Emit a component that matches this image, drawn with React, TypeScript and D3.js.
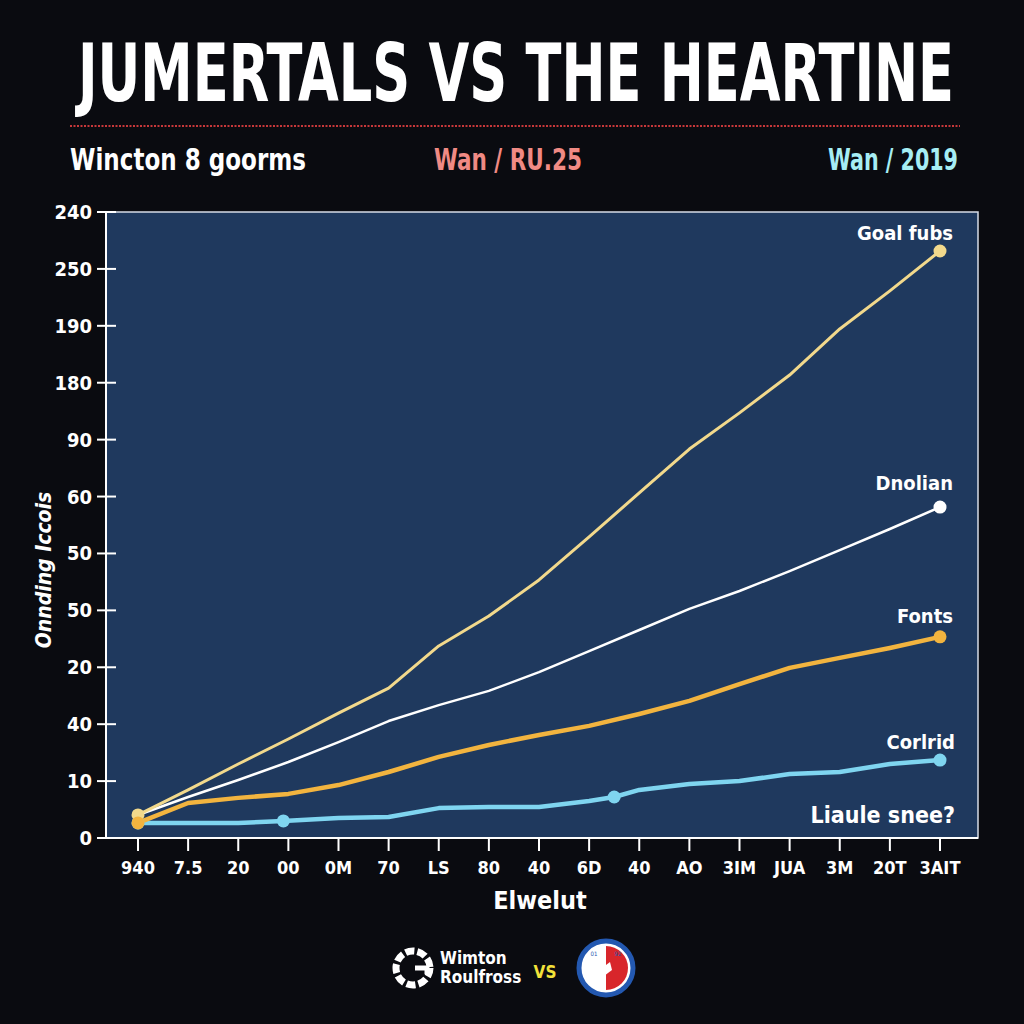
import React from "react";
import * as d3 from "d3";

const title = "JUMERTALS VS THE HEARTINE";
const subLeft = "Wincton 8 goorms";
const subMid = "Wan / RU.25";
const subRight = "Wan / 2019";
const yAxisTitle = "Onnding Iccois";
const xAxisTitle = "Elwelut";

const xTickLabels = ["940", "7.5", "20", "00", "0M", "70", "LS", "80", "40", "6D", "40", "AO", "3IM", "JUA", "3M", "20T", "3AIT"];
const yTickValues = [0, 20, 40, 60, 80, 100, 120, 140, 160, 180, 200, 220];
const yTickLabels = ["0", "10", "40", "20", "50", "50", "60", "90", "180", "190", "250", "240"];

const goalFubs = [8.1, 16.9, 26.0, 34.8, 43.9, 52.7, 67.5, 78.0, 90.7, 105.8, 121.3, 136.7, 149.4, 162.7, 178.9, 192.3, 206.3];
const dnolian = [8.1, 14.4, 20.4, 26.7, 33.7, 41.1, 46.7, 51.7, 58.3, 65.7, 73.1, 80.5, 86.8, 93.8, 101.2, 108.6, 116.3];
const fonts = [5.3, 12.3, 14.1, 15.5, 18.6, 23.2, 28.5, 32.7, 36.2, 39.4, 43.6, 48.2, 54.1, 59.8, 63.3, 66.8, 70.7];
const corlridX = [0, 1, 2, 2.9, 4, 5, 6, 7, 8, 9, 9.5, 10, 11, 12, 13, 14, 15, 16];
const corlridV = [5.3, 5.3, 5.3, 6.0, 7.0, 7.4, 10.5, 10.9, 10.9, 13.0, 14.4, 16.9, 19.0, 20.0, 22.5, 23.2, 26.0, 27.4];
const corlridMarkerIdx = [0, 3, 10, 17];

const seriesNames = ["Goal fubs", "Dnolian", "Fonts", "Corlrid"];
const noteLabel = "Liaule snee?";

const FONT = "'Liberation Sans Narrow', 'DejaVu Sans Condensed', 'Roboto', sans-serif";

export default function App() {
  const left = 106, right = 978, top = 212, bottom = 838;
  const x = d3.scaleLinear().domain([0, 16]).range([138, 940]);
  const y = d3.scaleLinear().domain([0, 220]).range([bottom, top]);
  const line = d3.line<[number, number]>().x(d => x(d[0])).y(d => y(d[1]));

  const goalPts: [number, number][] = goalFubs.map((v, i) => [i, v]);
  const dnoPts: [number, number][] = dnolian.map((v, i) => [i, v]);
  const fontPts: [number, number][] = fonts.map((v, i) => [i, v]);
  const corPts: [number, number][] = corlridX.map((xv, i) => [xv, corlridV[i]]);

  const cGoal = "#f2d98c";
  const cDno = "#ffffff";
  const cFonts = "#f2b43f";
  const cCor = "#7fd5f0";

  const labelStyle = { fontFamily: FONT, fontWeight: 700, fontSize: 20, fill: "#ffffff" } as const;

  return (
    <svg width={1024} height={1024} style={{ position: "absolute", left: 0, top: 0 }}>
      <rect x={0} y={0} width={1024} height={1024} fill="#0a0b10" />
      <text x={516} y={101} textAnchor="middle" fill="#ffffff" fontFamily={FONT} fontWeight={900} fontSize={80}
        textLength={876} lengthAdjust="spacingAndGlyphs">{title}</text>
      <line x1={70} x2={960} y1={126} y2={126} stroke="#c8383a" strokeWidth={2} strokeDasharray="2 1.5" />
      <text x={70} y={170} fill="#ffffff" fontFamily={FONT} fontWeight={700} fontSize={30} textLength={236} lengthAdjust="spacingAndGlyphs">{subLeft}</text>
      <text x={508} y={170} textAnchor="middle" fill="#f08a84" fontFamily={FONT} fontWeight={700} fontSize={30} textLength={148} lengthAdjust="spacingAndGlyphs">{subMid}</text>
      <text x={958} y={170} textAnchor="end" fill="#a6eef4" fontFamily={FONT} fontWeight={700} fontSize={30} textLength={130} lengthAdjust="spacingAndGlyphs">{subRight}</text>

      <rect x={left} y={top} width={right - left} height={bottom - top} fill="#1f395e" stroke="#d6dce6" strokeWidth={1.5} />

      {yTickValues.map((v, i) => (
        <g key={"yt" + i}>
          <line x1={97} x2={116} y1={y(v)} y2={y(v)} stroke="#ffffff" strokeWidth={2} />
          <text x={92} y={y(v) + 7} textAnchor="end" {...labelStyle} fontSize={20}>{yTickLabels[i]}</text>
        </g>
      ))}
      <line x1={left} x2={left} y1={top} y2={bottom} stroke="#ffffff" strokeWidth={2} />
      <line x1={left} x2={right} y1={bottom} y2={bottom} stroke="#ffffff" strokeWidth={2} />
      {xTickLabels.map((t, i) => (
        <g key={"xt" + i}>
          <line x1={x(i)} x2={x(i)} y1={bottom} y2={851} stroke="#ffffff" strokeWidth={2} />
          <text x={x(i)} y={874} textAnchor="middle" {...labelStyle} fontSize={18}>{t}</text>
        </g>
      ))}
      <text x={540} y={909} textAnchor="middle" {...labelStyle} fontSize={25}>{xAxisTitle}</text>
      <text transform="translate(51,570) rotate(-90)" textAnchor="middle" {...labelStyle} fontSize={21} fontStyle="italic">{yAxisTitle}</text>

      <path d={line(corPts) || ""} fill="none" stroke={cCor} strokeWidth={4.5} strokeLinejoin="round" />
      <path d={line(fontPts) || ""} fill="none" stroke={cFonts} strokeWidth={4.5} strokeLinejoin="round" />
      <path d={line(dnoPts) || ""} fill="none" stroke={cDno} strokeWidth={2.5} strokeLinejoin="round" />
      <path d={line(goalPts) || ""} fill="none" stroke={cGoal} strokeWidth={3} strokeLinejoin="round" />

      {corlridMarkerIdx.map(i => (
        <circle key={"cm" + i} cx={x(corPts[i][0])} cy={y(corPts[i][1])} r={6.5} fill={cCor} />
      ))}
      <circle cx={x(0)} cy={y(goalFubs[0])} r={6.5} fill={cGoal} />
      <circle cx={x(0)} cy={y(fonts[0])} r={6.5} fill={cFonts} />
      <circle cx={x(16)} cy={y(goalFubs[16])} r={6.5} fill={cGoal} />
      <circle cx={x(16)} cy={y(dnolian[16])} r={6.5} fill={cDno} />
      <circle cx={x(16)} cy={y(fonts[16])} r={6.5} fill={cFonts} />

      <text x={953} y={240} textAnchor="end" {...labelStyle}>{seriesNames[0]}</text>
      <text x={953} y={490} textAnchor="end" {...labelStyle}>{seriesNames[1]}</text>
      <text x={953} y={623} textAnchor="end" {...labelStyle}>{seriesNames[2]}</text>
      <text x={955} y={749} textAnchor="end" {...labelStyle}>{seriesNames[3]}</text>
      <text x={955} y={823} textAnchor="end" {...labelStyle} fontSize={23}>{noteLabel}</text>

      {/* bottom logos */}
      <g transform="translate(413,968)">
        <circle r={17} fill="none" stroke="#ffffff" strokeWidth={7} strokeDasharray="9 3" />
        <path d="M 2 0 L 14 0 L 14 6" fill="none" stroke="#ffffff" strokeWidth={5} />
      </g>
      <text x={440} y={964} fill="#ffffff" fontFamily={FONT} fontWeight={700} fontSize={17}>Wimton</text>
      <text x={440} y={983} fill="#ffffff" fontFamily={FONT} fontWeight={700} fontSize={17}>Roulfross</text>
      <text x={545} y={978} textAnchor="middle" fill="#f2e23a" fontFamily={FONT} fontWeight={900} fontSize={17}>VS</text>
      <g transform="translate(606,968)">
        <circle r={27} fill="#ffffff" stroke="#2358b0" strokeWidth={5} />
        <path d="M 0 -22 A 22 22 0 0 1 0 22 Z" fill="#d8262b" />
        <path d="M -4 0 L 4 -6 L 6 2 L -2 8 Z" fill="#ffffff" />
        <text x={-12} y={-12} textAnchor="middle" fill="#2358b0" fontSize={6} fontFamily={FONT}>01</text>
        <text x={12} y={-12} textAnchor="middle" fill="#2358b0" fontSize={6} fontFamily={FONT}>92</text>
      </g>
    </svg>
  );
}
